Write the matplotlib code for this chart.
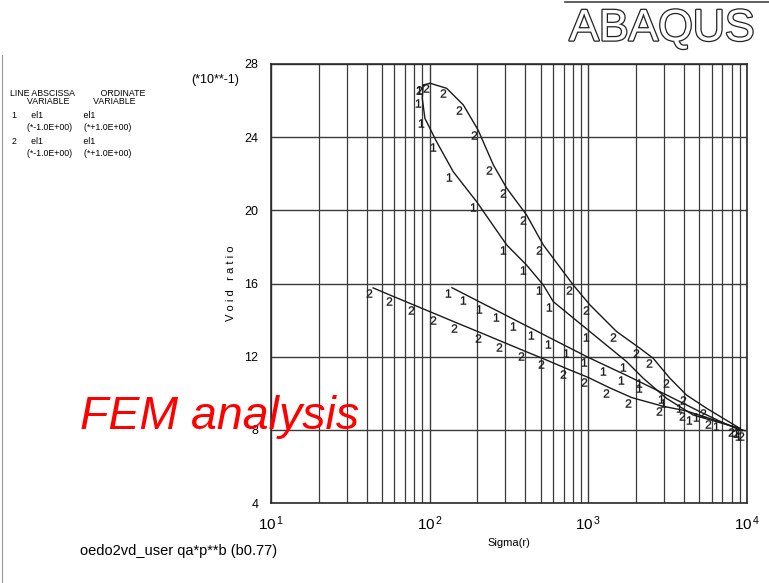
import numpy as np
import matplotlib
matplotlib.use("Agg")
import matplotlib.pyplot as plt
import matplotlib.patheffects as pe
from matplotlib.transforms import ScaledTranslation
from matplotlib.ticker import FixedLocator, FixedFormatter, LogLocator, NullFormatter

plt.rcParams['font.family'] = ['Liberation Sans', 'DejaVu Sans']
plt.rcParams['mathtext.fontset'] = 'custom'
plt.rcParams['mathtext.rm'] = 'Liberation Sans'
plt.rcParams['mathtext.default'] = 'regular'

# ---- data (void ratio shown in units of 10**-1) ----
# curve 1, loop branch
sig1a = [91.1, 89.8, 93.3, 110.6, 140.8, 197.8, 305.6, 408, 520, 601, 1023, 1742, 2218, 3113, 4580, 9020]
e1a = [26.85, 26.13, 25.03, 23.75, 22.11, 20.47, 18.11, 17.01, 15.92, 15.01, 13.37, 11.73, 10.82, 9.72, 8.81, 8.08]
# curve 2, loop branch
sig2a = [91.1, 100.5, 128, 163, 202, 252, 306, 408, 520, 803, 1023, 1508, 2113, 2564, 3266, 4160, 5560, 9020]
e2a = [26.85, 26.95, 26.67, 25.76, 24.39, 22.48, 21.21, 19.75, 18.11, 15.92, 14.83, 13.37, 12.46, 11.91, 10.82, 9.90, 9.18, 8.08]
# curve 1, lower straight branch
sig1b = [138.2, 171.8, 216.7, 277.4, 354.8, 461, 590, 766, 994, 1309, 1700, 2209, 3040, 3948, 5050, 6750, 9290]
e1b = [15.77, 15.35, 14.90, 14.43, 13.95, 13.45, 12.97, 12.47, 11.97, 11.48, 11.02, 10.54, 9.95, 9.46, 8.99, 8.47, 7.94]
# curve 2, lower straight branch
sig2b = [44.0, 58.7, 80.8, 111.1, 150.7, 213.6, 289.8, 398.7, 533, 733, 995, 1368, 1882, 2952, 4120, 6010, 8390, 9700]
e2b = [15.76, 15.30, 14.80, 14.30, 13.82, 13.28, 12.80, 12.30, 11.85, 11.34, 10.87, 10.29, 9.76, 9.29, 9.04, 8.58, 8.14, 7.95]

yticks = [4, 8, 12, 16, 20, 24, 28]
xticks = [10, 100, 1000, 10000]
xticklabels = [r"10$^{\,1}$", r"10$^{\,2}$", r"10$^{\,3}$", r"10$^{\,4}$"]

fig = plt.figure(figsize=(7.69, 5.83), dpi=100)
ax = fig.add_axes([271/769, 1-503/583, (747-271)/769, (503-64)/583])
ax.set_xscale('log')
ax.set_xlim(10, 10000)
ax.set_ylim(4, 28)

ax.xaxis.set_major_locator(FixedLocator(xticks))
ax.xaxis.set_major_formatter(FixedFormatter(xticklabels))
ax.xaxis.set_minor_locator(LogLocator(base=10, subs=np.arange(2, 10)))
ax.xaxis.set_minor_formatter(NullFormatter())
ax.yaxis.set_major_locator(FixedLocator(yticks))
ax.tick_params(axis='both', which='both', length=0)
ax.tick_params(axis='x', labelsize=11, pad=8)
ax.tick_params(axis='y', labelsize=9, pad=9)

ax.grid(True, which='major', axis='both', color='#3a3a3a', lw=1.0)
ax.grid(True, which='minor', axis='x', color='#3a3a3a', lw=0.9)
for s in ax.spines.values():
    s.set_color('#2a2a2a')
    s.set_linewidth(1.2)

off = ScaledTranslation(-4/100, -5/100, fig.dpi_scale_trans)
for sx, sy, m in [(sig1a, e1a, '$1$'), (sig2a, e2a, '$2$'), (sig1b, e1b, '$1$'), (sig2b, e2b, '$2$')]:
    ax.plot(sx, sy, color='#1a1a1a', lw=1.0)
    ax.plot(sx, sy, linestyle='none', marker=m, markersize=6, markeredgewidth=0.2,
            color='#1a1a1a', transform=ax.transData + off)

ax.set_xlabel("Sigma(r)", fontsize=8, labelpad=4)
ax.set_ylabel("V o i d   r a t i o", fontsize=8, labelpad=6)

fig.text(191/769, 1-80/583, "(*10**-1)", fontsize=9, va='center', ha='left')

# legend block
lt = [(10, 93, "LINE ABSCISSA           ORDINATE"),
      (27, 102, "VARIABLE          VARIABLE"),
      (12, 116, "1      el1                 el1"),
      (27, 127, "(*-1.0E+00)     (*+1.0E+00)"),
      (12, 141, "2      el1                 el1"),
      (27, 154, "(*-1.0E+00)     (*+1.0E+00)")]
for x, y, t in lt:
    fig.text(x/769, 1-y/583, t, fontsize=6.3, va='center', ha='left')

# ABAQUS outlined logo
fig.text(662/769, 1-29/583, "ABAQUS", fontsize=32, color='white', ha='center', va='center',
         path_effects=[pe.Stroke(linewidth=1.8, foreground='#222222'), pe.Normal()])
fig.add_artist(plt.Line2D([565/769, 1.0], [1-2/583, 1-2/583], color='#444444', lw=1.2))
fig.add_artist(plt.Line2D([2/769, 2/769], [0, 1-55/583], color='#999999', lw=0.8))

fig.text(80/769, 1-551/583, "oedo2vd_user qa*p**b (b0.77)", fontsize=10.5, va='center', ha='left')

fig.text(80/769, 1-417/583, "FEM analysis", fontsize=33.5, color='red', style='italic',
         va='center', ha='left', zorder=10)

fig.savefig("out.png", dpi=100)
